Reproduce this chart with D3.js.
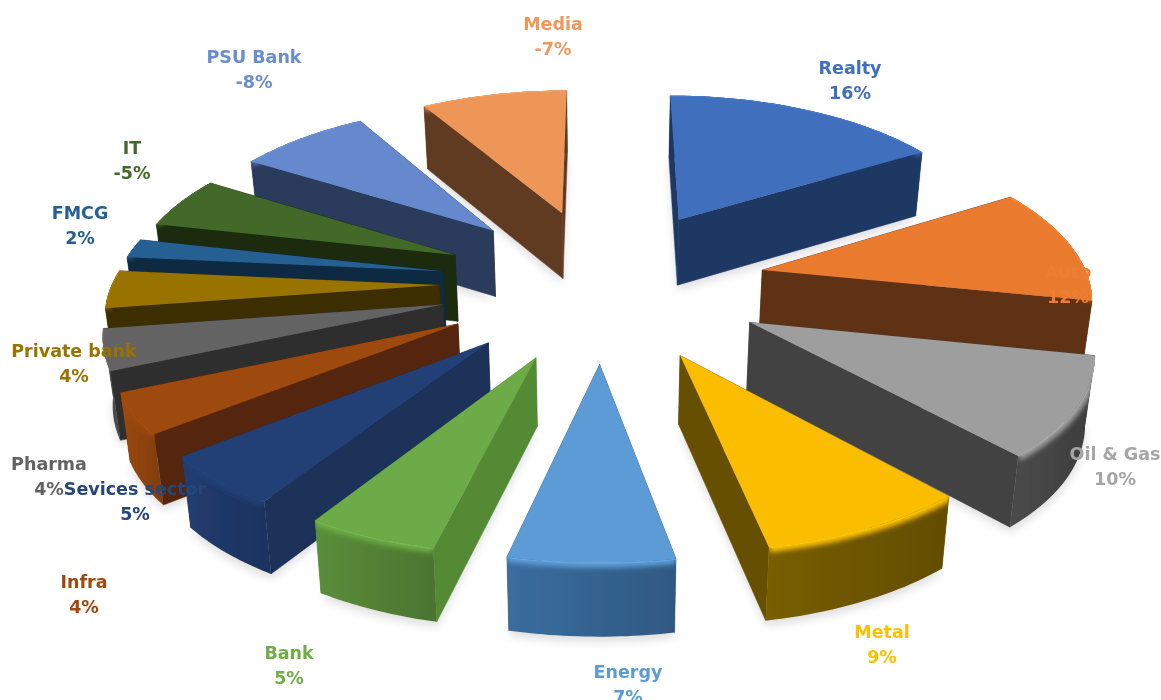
<!DOCTYPE html>
<meta charset="utf-8">
<style>
body { margin: 0; background: #fff; }
text { font-family: "DejaVu Sans", sans-serif; font-size: 17.5px; font-weight: bold; text-anchor: middle; }
</style>
<body>
<script src="https://d3js.org/d3.v7.min.js"></script>
<script>

var width = 1161,
    height = 700;

// Data
var categories = ["Realty", "Auto", "Oil & Gas", "Metal", "Energy", "Bank", "Sevices sector", "Infra", "Pharma", "Private bank", "FMCG", "IT", "PSU Bank", "Media"];
var valueLabels = ["16%", "12%", "10%", "9%", "7%", "5%", "5%", "4%", "4%", "4%", "2%", "-5%", "-8%", "-7%"];
// slice sizes, unrounded, as the angles show them
var sizes = [16, 11.6, 10, 8.4, 6.5, 5.2, 5.2, 4.1, 4.1, 3.8, 1.9, 5.2, 7.5, 8.4];

// Colours
var topColors = ["#3f6fbd", "#e97a2f", "#9e9e9e", "#fbbd00", "#5b9bd5", "#6cab46", "#234075", "#9e480e", "#636363", "#997300", "#255e91", "#43682b", "#6589cc", "#ee9559"];
var sideColors = ["#1f3864", "#5f3212", "#424242", "#665000", "#2f5a82", "#558a35", "#1b3059", "#55260a", "#2e2e2e", "#3d2e00", "#0f2a42", "#1b2a11", "#2b3a5c", "#613a22"];
var rimColors = ["#1f3864", "#5f3212", "#424242", "#6a5300", "#33608c", "#4f7d33", "#1e3664", "#8a400f", "#4a4a4a", "#3d2e00", "#0f2a42", "#1b2a11", "#2b3a5c", "#613a22"];
var textColors = ["#3f6fbd", "#ed7d31", "#a5a5a5", "#ffc000", "#5b9bd5", "#70ad47", "#264478", "#9e480e", "#636363", "#997300", "#255e91", "#43682b", "#698ed0", "#f1975a"];

// Label centres (first line), placed by hand in the original
var labelX = [850, 1068, 1115, 882, 628, 289, 135, 84, 49, 74, 80, 132, 254, 553];
var labelY = [74, 278, 460, 638, 678, 659, 495, 588, 470, 357, 219, 154, 63, 30];

// Projection of the pie plane
var cx = 603, cy = 283,
    fx = 327, fy = 153,
    perspX = 0.135,
    perspY = 0.12,
    explode = 0.5;

// u is right, v is toward the viewer, both in slice radii
function project(u, v) {
    var s = 1 / (1 - perspY * v);
    return { x: cx + fx * u / (1 - perspX * v), y: cy + fy * v * s, s: s };
}

function drop(p) {
    return { x: cx + (p.x - cx) * 0.98, y: p.y + 36 + 31 * p.s };
}

function toPath(pts) {
    return "M" + pts.map(function(p) { return p.x + "," + p.y; }).join("L") + "Z";
}

function toLine(pts) {
    return "M" + pts.map(function(p) { return p.x + "," + p.y; }).join("L");
}

var pie = d3.pie().sort(null).value(function(d) { return d; });
var arcs = pie(sizes);

var slices = arcs.map(function(a, i) {
    var mid = (a.startAngle + a.endAngle) / 2;
    var ox = explode * Math.sin(mid),
        oy = -explode * Math.cos(mid);
    var angles = d3.range(0, 25).map(function(k) {
        return a.startAngle + (a.endAngle - a.startAngle) * k / 24;
    });
    var rim = angles.map(function(t) {
        return project(ox + Math.sin(t), oy - Math.cos(t));
    });
    var apex = project(ox, oy);
    return { i: i, apex: apex, rim: rim, depth: oy };
});

var svg = d3.select("body").append("svg")
    .attr("width", width)
    .attr("height", height)
    .style("display", "block");

var defs = svg.append("defs");
defs.append("filter").attr("id", "soft")
    .attr("x", "-20%").attr("y", "-20%").attr("width", "140%").attr("height", "140%")
    .append("feGaussianBlur").attr("stdDeviation", 5);
defs.append("filter").attr("id", "edge")
    .attr("filterUnits", "userSpaceOnUse")
    .attr("x", 0).attr("y", 0).attr("width", width).attr("height", height)
    .append("feGaussianBlur").attr("stdDeviation", 2.5);
defs.append("filter").attr("id", "photo")
    .attr("filterUnits", "userSpaceOnUse")
    .attr("x", 0).attr("y", 0).attr("width", width).attr("height", height)
    .append("feGaussianBlur").attr("stdDeviation", 0.5);

// rim walls get a little lighter to the left
slices.forEach(function(d) {
    var c = d3.color(rimColors[d.i]);
    var grad = defs.append("linearGradient").attr("id", "rim" + d.i);
    grad.append("stop").attr("offset", "0%").attr("stop-color", c.brighter(0.35));
    grad.append("stop").attr("offset", "100%").attr("stop-color", c.darker(0.2));
    defs.append("clipPath").attr("id", "wall" + d.i)
        .append("path")
        .attr("d", toPath(d.rim.concat(d.rim.slice().reverse().map(drop))));
});

var chart = svg.append("g").attr("filter", "url(#photo)");

// back slices first
slices.sort(function(a, b) { return a.depth - b.depth; });

var groups = chart.selectAll("g.slice")
    .data(slices)
    .enter()
    .append("g")
    .attr("class", "slice");

// soft ground shadow
groups.append("path")
    .attr("filter", "url(#soft)")
    .attr("fill", "#000")
    .attr("opacity", 0.13)
    .attr("d", function(d) {
        var lower = [d.apex].concat(d.rim).map(drop);
        return toPath(lower.map(function(p) { return { x: p.x, y: p.y + 5 }; }));
    });

// walls, the ones further back first
groups.each(function(d) {
    var g = d3.select(this);
    var first = d.rim[0],
        last = d.rim[d.rim.length - 1];
    var walls = [
        { pts: [d.apex, first, drop(first), drop(d.apex)], fill: sideColors[d.i], line: sideColors[d.i] },
        { pts: [d.apex, last, drop(last), drop(d.apex)], fill: sideColors[d.i], line: sideColors[d.i] },
        { pts: d.rim.concat(d.rim.slice().reverse().map(drop)), fill: "url(#rim" + d.i + ")", line: "none" }
    ];
    walls.sort(function(a, b) { return d3.mean(a.pts, function(p) { return p.y; }) - d3.mean(b.pts, function(p) { return p.y; }); });
    walls.forEach(function(w) {
        g.append("path").attr("fill", w.fill).attr("stroke", w.line).attr("stroke-width", 0.5).attr("d", toPath(w.pts));
    });
});

// rounded edge where the rim meets the top, only on the wall
groups.append("g")
    .attr("clip-path", function(d) { return "url(#wall" + d.i + ")"; })
    .append("path")
    .attr("fill", "none")
    .attr("filter", "url(#edge)")
    .attr("stroke", function(d) { return topColors[d.i]; })
    .attr("stroke-width", 10)
    .attr("d", function(d) { return toLine(d.rim); });

// top faces
groups.append("path")
    .attr("fill", function(d) { return topColors[d.i]; })
    .attr("d", function(d) { return toPath([d.apex].concat(d.rim)); });

// thin highlight on the same edge
groups.append("g")
    .attr("clip-path", function(d) { return "url(#wall" + d.i + ")"; })
    .append("path")
    .attr("fill", "none")
    .attr("stroke", function(d) { return d3.color(topColors[d.i]).brighter(0.4); })
    .attr("stroke-opacity", 0.6)
    .attr("stroke-width", 2)
    .attr("d", function(d) { return toLine(d.rim); });

// labels
var labels = svg.append("g").attr("filter", "url(#photo)")
    .selectAll("text.label")
    .data(categories)
    .enter()
    .append("text")
    .attr("class", "label")
    .attr("fill", function(d, i) { return textColors[i]; })
    .attr("x", function(d, i) { return labelX[i]; })
    .attr("y", function(d, i) { return labelY[i]; });

labels.append("tspan").text(function(d) { return d; });
labels.append("tspan")
    .attr("x", function(d, i) { return labelX[i]; })
    .attr("dy", 24.5)
    .text(function(d, i) { return valueLabels[i]; });

</script>
</body>
